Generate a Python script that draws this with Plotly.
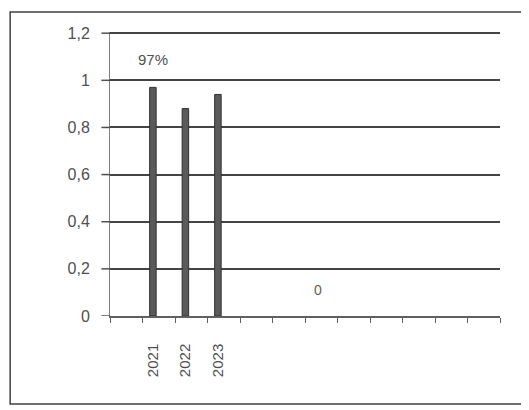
import plotly.graph_objects as go

# data
years = ["2021", "2022", "2023"]
values = [0.97, 0.88, 0.94]
n_slots = 12          # category slots on the x axis
first_slot = 1        # first slot is empty
y_ticks = [0, 0.2, 0.4, 0.6, 0.8, 1, 1.2]

# bars sit a little left of the slot centre in the original
xpos = [first_slot + i + 0.32 for i in range(len(years))]

fig = go.Figure()
fig.add_trace(go.Bar(
    x=xpos, y=values, width=0.2,
    marker=dict(color="#5a5a5a", line=dict(color="#303030", width=1)),
    showlegend=False,
))

fig.update_layout(
    width=521, height=402,
    margin=dict(l=102, r=29, t=24, b=94),
    paper_bgcolor="white", plot_bgcolor="white",
    separators=", ",
    font=dict(family="Liberation Sans, Arial", size=16, color="#505050"),
    xaxis=dict(
        range=[0, n_slots], tickvals=xpos, ticktext=years,
        tickangle=-90, ticks="", showgrid=False, zeroline=False,
        showline=True, linecolor="#606060", linewidth=1.5,
        tickfont=dict(size=15), ticklabelstandoff=20,
        minor=dict(tickmode="linear", tick0=0, dtick=1, ticks="outside",
                   ticklen=5, tickcolor="#606060", showgrid=False),
    ),
    yaxis=dict(
        range=[0, 1.205], tickvals=y_ticks, ticks="",
        showgrid=True, gridcolor="#444444", gridwidth=1.5,
        zeroline=False, showline=True, linecolor="#808080", linewidth=1,
        ticklabelstandoff=16,
    ),
    annotations=[
        dict(x=xpos[0], y=1.09, text="97%", showarrow=False,
             font=dict(size=15, color="#505050")),
        dict(x=6.4, y=0.11, text="0", showarrow=False,
             font=dict(size=14, color="#606060")),
    ],
    shapes=[
        # outer frame of the scanned page (open to the right)
        dict(type="path", xref="paper", yref="paper",
             path="M 1.074,1.07 L -0.256,1.07 L -0.256,-0.31 L 1.074,-0.31",
             line=dict(color="#404040", width=1.5)),
    ],
)

# short outside tick marks on the value axis
for v in y_ticks:
    fig.add_shape(type="line", xref="paper", yref="y",
                  x0=-0.022, x1=0, y0=v, y1=v,
                  line=dict(color="#505050", width=1.5))

fig.write_html("out.html")
